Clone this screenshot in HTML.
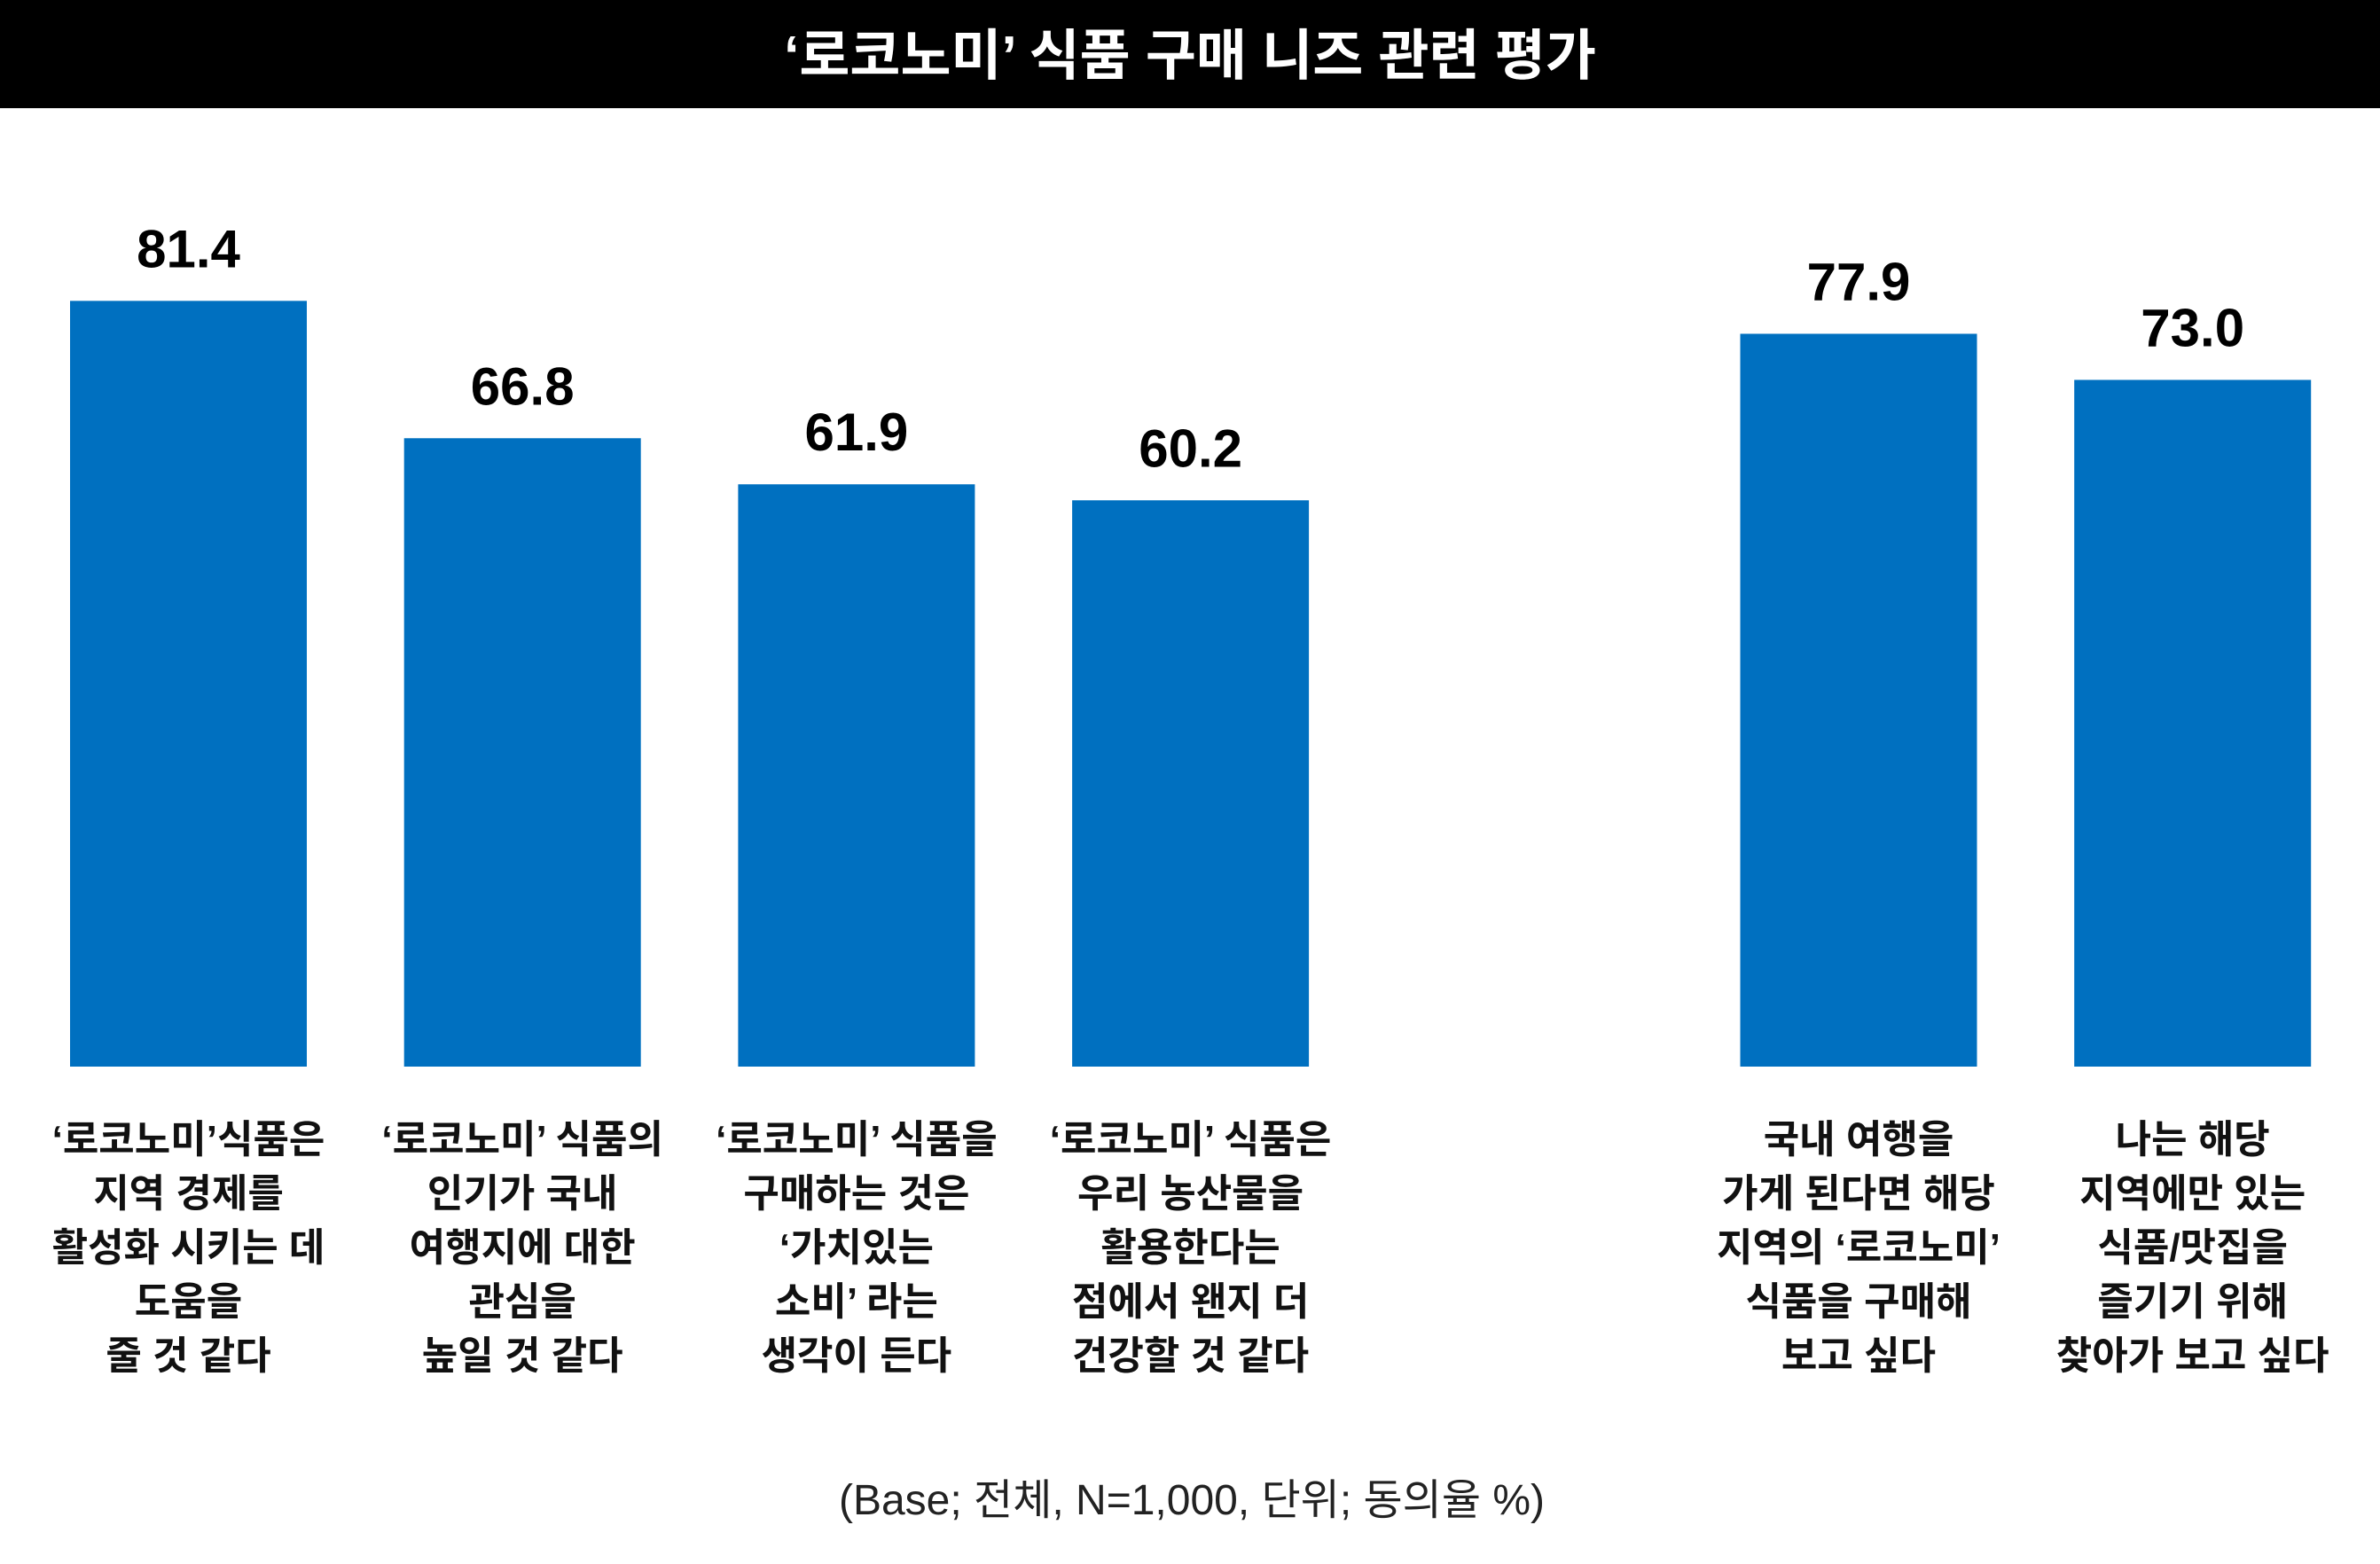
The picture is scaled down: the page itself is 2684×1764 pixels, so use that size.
<!DOCTYPE html>
<html><head><meta charset="utf-8">
<style>
html,body{margin:0;padding:0;background:#fff;}
svg{display:block;}
text{font-family:"Liberation Sans","Noto Sans CJK KR",sans-serif;}
</style></head>
<body>
<svg id="chart" width="2684" height="1764" viewBox="0 0 2684 1764" xmlns="http://www.w3.org/2000/svg">
<rect x="0" y="0" width="2684" height="122" fill="#000"/>
<text x="1342" y="84" text-anchor="middle" fill="#fff" font-size="62" font-weight="bold">‘로코노미’ 식품 구매 니즈 관련 평가</text>
<g id="bars"></g>
<g id="vals"></g>
<g id="cats"></g>
<text x="1344" y="1708" text-anchor="middle" fill="#222" font-size="48">(Base; 전체, N=1,000, 단위; 동의율 %)</text>
</svg>
<script>
const categories = [
 ["‘로코노미’식품은","지역 경제를","활성화 시키는 데","도움을","줄 것 같다"],
 ["‘로코노미’ 식품의","인기가 국내","여행지에 대한","관심을","높일 것 같다"],
 ["‘로코노미’ 식품을","구매하는 것은","‘가치있는","소비’ 라는","생각이 든다"],
 ["‘로코노미’ 식품은","우리 농산물을","활용한다는","점에서 왠지 더","건강할 것 같다"],
 ["국내 여행을","가게 된다면 해당","지역의 ‘로코노미’","식품을 구매해","보고 싶다"],
 ["나는 해당","지역에만 있는","식품/맛집을","즐기기 위해","찾아가 보고 싶다"]
];
const values = [81.4, 66.8, 61.9, 60.2, 77.9, 73.0];
const slots = [0,1,2,3,5,6];
const NS="http://www.w3.org/2000/svg";
const baseY=1203, pxPerUnit=10.61, x0=79, step=376.7, bw=267;
function xScale(slot){return x0+slot*step;}
function yScale(v){return baseY-v*pxPerUnit;}
const gb=document.getElementById('bars'),gv=document.getElementById('vals'),gc=document.getElementById('cats');
values.forEach((v,i)=>{
 const x=xScale(slots[i]), y=yScale(v), cx=x+bw/2;
 const r=document.createElementNS(NS,'rect');
 
 
 r.setAttribute('x',x);r.setAttribute('y',y);r.setAttribute('width',bw);r.setAttribute('height',baseY-y);r.setAttribute('fill','#0070C0');
 gb.appendChild(r);
 const t=document.createElementNS(NS,'text');
 
 
 t.setAttribute('x',cx);t.setAttribute('y',y-38);t.setAttribute('text-anchor','middle');t.setAttribute('font-size','60');t.setAttribute('font-weight','bold');
 t.textContent=v.toFixed(1);
 gv.appendChild(t);
 categories[i].forEach((line,j)=>{
  const c=document.createElementNS(NS,'text');
  
  
  c.setAttribute('x',cx);c.setAttribute('y',1300+j*61);c.setAttribute('text-anchor','middle');c.setAttribute('font-size','44');c.setAttribute('font-weight','bold');c.setAttribute('fill','#111');
  c.textContent=line;
  gc.appendChild(c);
 });
});
</script>
</body></html>
